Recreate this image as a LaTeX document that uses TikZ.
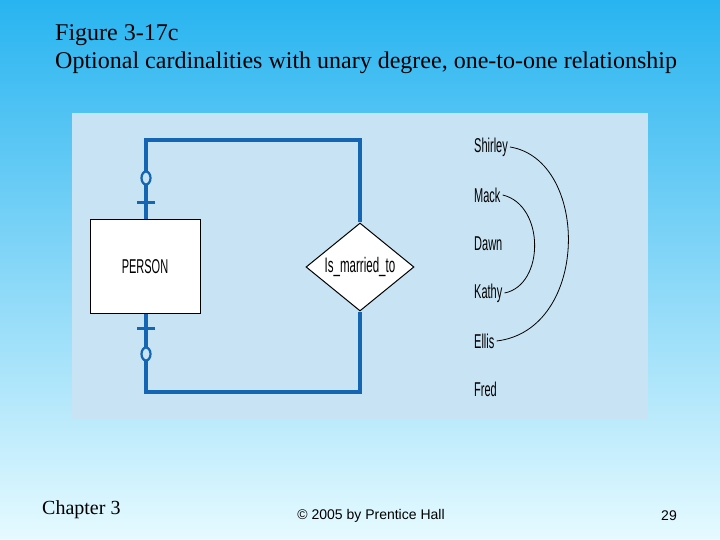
\documentclass[tikz,border=0pt]{standalone}
\usepackage{fontspec}
\setmainfont{Liberation Serif}
\newfontfamily\arial{Liberation Sans}
\newfontfamily\narrow[FakeStretch=0.55]{Liberation Sans}
\usetikzlibrary{shapes.geometric}
\definecolor{erblue}{HTML}{1565B5}
\definecolor{panel}{HTML}{C8E3F3}
\begin{document}
\begin{tikzpicture}[x=1pt,y=-1pt,
  er/.style={draw=erblue,line width=3.4pt},
  lbl/.style={font=\narrow\fontsize{20}{20}\selectfont,anchor=west,inner sep=0pt},
  arc/.style={draw=black,line width=0.8pt}]
\shade[top color={rgb,255:red,40;green,180;blue,240},bottom color={rgb,255:red,230;green,250;blue,255}] (0,0) rectangle (720,540);
\useasboundingbox (0,0) rectangle (720,540);
\fill[panel] (72,113) rectangle (648,419);
\node[anchor=north west,inner sep=0pt,align=left,font=\fontsize{24}{28}\selectfont] (title) at (55,24) {Figure 3-17c\\Optional cardinalities with unary degree, one-to-one relationship};
\node[draw=black,fill=white,line width=1pt,minimum width=110pt,minimum height=93pt,inner sep=0pt,font=\narrow\fontsize{20}{20}\selectfont] (person) at (145,266.5) {PERSON};
\node[diamond,draw=black,fill=white,line width=1pt,minimum width=108pt,minimum height=88pt,inner sep=0pt,aspect=1.23,font=\narrow\fontsize{21}{21}\selectfont] (rel) at (360,267) {Is\_married\_to};
\coordinate (t1) at (146,140); \coordinate (t2) at (360,140);
\coordinate (b1) at (146,392); \coordinate (b2) at (360,392);
\draw[er] (person.north -| t1) -- (t1) -- (t2) -- (rel.north);
\draw[er] (person.south -| b1) -- (b1) -- (b2) -- (rel.south);
\draw[erblue,line width=2.2pt,fill=panel] (146,178) ellipse (4.5pt and 6.5pt);
\draw[erblue,line width=2.2pt,fill=panel] (146,354) ellipse (4.5pt and 6.5pt);
\draw[erblue,line width=3pt] (137,203) -- (155,203);
\draw[erblue,line width=3pt] (137,328) -- (155,328);
\node[lbl] (s) at (474,147) {Shirley};
\node[lbl] (m) at (474,195) {Mack};
\node[lbl] (d) at (474,244) {Dawn};
\node[lbl] (k) at (474,293) {Kathy};
\node[lbl] (e) at (474,341) {Ellis};
\node[lbl] (f) at (474,389) {Fred};
\draw[arc] ([xshift=2pt]s.east) .. controls (590,160) and (590,330) .. ([xshift=2pt]e.east);
\draw[arc] ([xshift=2pt]m.east) .. controls (545,205) and (545,285) .. ([xshift=2pt]k.east);
\node[anchor=west,inner sep=0pt,font=\fontsize{20}{20}\selectfont] (ch) at (42,510) {Chapter 3};
\node[inner sep=0pt,font=\arial\fontsize{14}{14}\selectfont] (cp) at (371,516) {© 2005 by Prentice Hall};
\node[inner sep=0pt,font=\arial\fontsize{14}{14}\selectfont] (pg) at (669,516) {29};
\end{tikzpicture}
\end{document}
